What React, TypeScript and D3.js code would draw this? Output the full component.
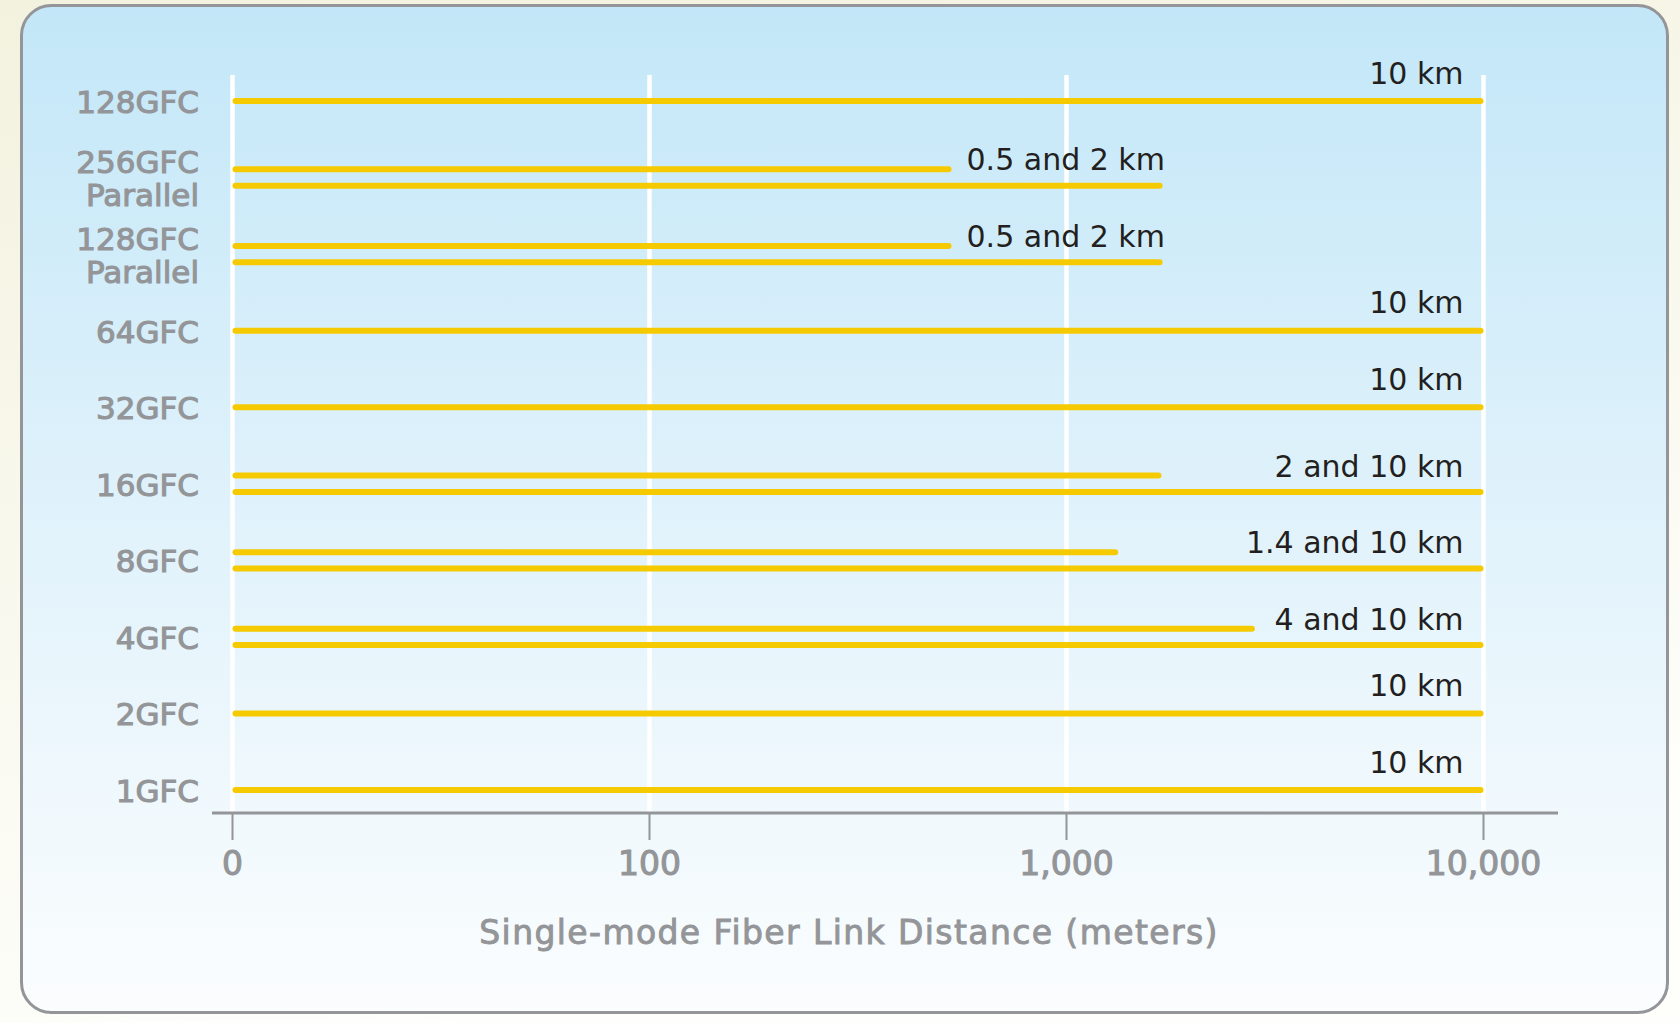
import React from "react";
import * as d3 from "d3";

const categories = [
  "128GFC",
  "256GFC|Parallel",
  "128GFC|Parallel",
  "64GFC",
  "32GFC",
  "16GFC",
  "8GFC",
  "4GFC",
  "2GFC",
  "1GFC",
];
// first (upper) bar of each category, meters
const shortReach = [10000, 530, 530, 10000, 10000, 1690, 1330, 2830, 10000, 10000];
// second (lower) bar, null when the category has one bar
const longReach: (number | null)[] = [null, 1700, 1700, null, null, 10000, 10000, 10000, null, null];
const reachLabels = [
  "10 km",
  "0.5 and 2 km",
  "0.5 and 2 km",
  "10 km",
  "10 km",
  "2 and 10 km",
  "1.4 and 10 km",
  "4 and 10 km",
  "10 km",
  "10 km",
];
const tickValues = [10, 100, 1000, 10000];
const tickLabels = ["0", "100", "1,000", "10,000"];
const axisTitle = "Single-mode Fiber Link Distance (meters)";

const W = 1680;
const H = 1023;
const GRAY = "#939598";
const YELLOW = "#f5ca00";
const DARK = "#231f20";
const FONT = "'DejaVu Sans', sans-serif";

export default function App() {
  const x = d3.scaleLog().domain([10, 10000]).range([232.5, 1483.5]);
  const y = d3.scalePoint<string>().domain(categories).range([101, 790]);
  const axisY = 813;
  const gridTop = 75;
  const sw = 6;
  const pairOff = 8.2;

  return (
    <svg
      width={W}
      height={H}
      style={{ position: "fixed", left: 0, top: 0, display: "block" }}
    >
      <defs>
        <linearGradient id="page" x1="0" y1="0" x2="0.3" y2="1">
          <stop offset="0" stopColor="#f3f2df" />
          <stop offset="1" stopColor="#fefefb" />
        </linearGradient>
        <linearGradient id="panel" x1="0" y1="0" x2="0" y2="1">
          <stop offset="0" stopColor="#c3e7f8" />
          <stop offset="0.5" stopColor="#e0f2fb" />
          <stop offset="1" stopColor="#fbfdfe" />
        </linearGradient>
      </defs>
      <rect x={0} y={0} width={W} height={H} fill="url(#page)" />
      <rect
        x={21.5}
        y={5.5}
        width={1646}
        height={1007}
        rx={30}
        ry={30}
        fill="url(#panel)"
        stroke={GRAY}
        strokeWidth={3}
      />

      {/* gridlines */}
      {tickValues.map((t) => (
        <line
          key={"g" + t}
          x1={x(t)}
          x2={x(t)}
          y1={gridTop}
          y2={axisY}
          stroke="#ffffff"
          strokeWidth={4.5}
        />
      ))}

      {/* axis */}
      <line x1={212} x2={1558} y1={axisY} y2={axisY} stroke={GRAY} strokeWidth={3} />
      {tickValues.map((t, i) => (
        <g key={"t" + t}>
          <line x1={x(t)} x2={x(t)} y1={axisY} y2={840} stroke={GRAY} strokeWidth={2} />
          <text
            x={x(t)}
            y={875}
            textAnchor="middle"
            fill={GRAY}
            stroke={GRAY}
            strokeWidth={1.1}
            fontFamily={FONT}
            fontSize={33}
          >
            {tickLabels[i]}
          </text>
        </g>
      ))}
      <text
        x={849}
        y={944}
        textAnchor="middle"
        fill={GRAY}
        stroke={GRAY}
        strokeWidth={0.9}
        fontFamily={FONT}
        fontSize={33}
        letterSpacing={1.4}
      >
        {axisTitle}
      </text>

      {/* categories */}
      {categories.map((c, i) => {
        const cy = y(c) as number;
        const lines = c.split("|");
        const hasPair = longReach[i] !== null;
        const yShort = hasPair ? cy - pairOff : cy;
        const yLong = cy + pairOff;
        const maxVal = Math.max(shortReach[i], longReach[i] ?? 0);
        const reachesEnd = maxVal >= 10000;
        const x0 = x(10) + sw / 2;
        return (
          <g key={c + i}>
            <text
              textAnchor="end"
              fill={GRAY}
              stroke={GRAY}
              strokeWidth={1.1}
              fontFamily={FONT}
              fontSize={31}
            >
              {lines.map((l, k) => (
                <tspan
                  key={k}
                  x={199}
                  y={cy + 12 + (k - (lines.length - 1) / 2) * 33}
                >
                  {l}
                </tspan>
              ))}
            </text>
            <line
              x1={x0}
              x2={x(shortReach[i]) - sw / 2}
              y1={yShort}
              y2={yShort}
              stroke={YELLOW}
              strokeWidth={sw}
              strokeLinecap="round"
            />
            {hasPair && (
              <line
                x1={x0}
                x2={x(longReach[i] as number) - sw / 2}
                y1={yLong}
                y2={yLong}
                stroke={YELLOW}
                strokeWidth={sw}
                strokeLinecap="round"
              />
            )}
            <text
              x={reachesEnd ? x(10000) - 20 : x(shortReach[i]) + 15}
              y={hasPair ? yShort + 1 : yShort - 17.5}
              textAnchor={reachesEnd ? "end" : "start"}
              fill={DARK}
              fontFamily={FONT}
              fontSize={30}
            >
              {reachLabels[i]}
            </text>
          </g>
        );
      })}
    </svg>
  );
}
